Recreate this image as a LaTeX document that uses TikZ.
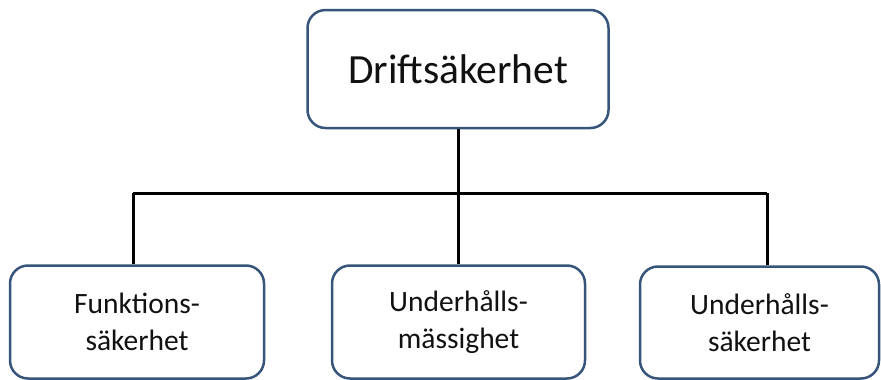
\documentclass[tikz,border=0pt]{standalone}
\usepackage{fontspec}
\setmainfont{Carlito}
\definecolor{boxline}{HTML}{37557A}
\definecolor{txt}{HTML}{111111}
\tikzset{
  orgbox/.style={draw=boxline, line width=2.5pt, rounded corners=18pt, fill=white,
    inner sep=0pt, align=center, text=txt},
  conn/.style={draw=black, line width=3pt},
}
\begin{document}
\begin{tikzpicture}[x=1pt,y=-1pt]
\useasboundingbox (0,0) rectangle (881,380);
\node[orgbox, minimum width=301pt, minimum height=118pt,
  font=\fontsize{41.5}{48}\selectfont] (top) at (458,69) {Driftsäkerhet};
\node[orgbox, minimum width=254pt, minimum height=113pt,
  font=\fontsize{29.5}{36.5}\selectfont] (left) at (137,322) {Funktions-\\säkerhet};
\node[orgbox, minimum width=253pt, minimum height=113pt,
  font=\fontsize{29.5}{36.5}\selectfont] (mid) at (458.5,322) {Underhålls-\\mässighet};
\node[orgbox, minimum width=239pt, minimum height=112pt,
  font=\fontsize{29.5}{36.5}\selectfont] (right) at (759.5,322.5) {Underhålls-\\säkerhet};
\coordinate (jl) at (133,193);
\coordinate (jm) at (458,193);
\coordinate (jr) at (767,193);
\draw[conn] (top.south) -- (jm);
\draw[conn] (jl) -- (jr);
\draw[conn] (jl) -- (jl |- left.north);
\draw[conn] (jm) -- (mid.north -| jm);
\draw[conn] (jr) -- (jr |- right.north);
\end{tikzpicture}
\end{document}
